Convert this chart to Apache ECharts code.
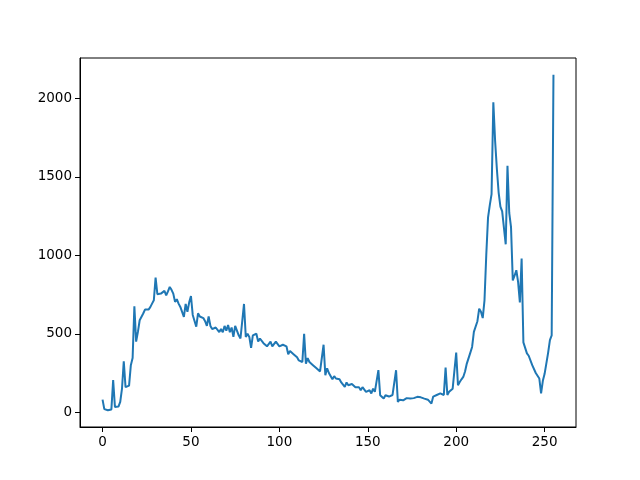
<!DOCTYPE html>
<html><head><meta charset="utf-8">
<script src="https://cdn.jsdelivr.net/npm/echarts@6/dist/echarts.min.js"></script>
<style>html,body{margin:0;padding:0;background:#fff}#c{width:640px;height:480px}</style>
</head><body><div id="c"></div>
<script>
// values for intensities 0..255
const v0_49 = [80,20,15,13,17,18,205,34,34,36,66,150,325,160,161,170,300,345,675,450,512,586,575,629,654,660,654,670,692,713,858,752,760,756,745,773,745,770,798,780,756,703,720,692,671,660,607,690,640,700];
const v50_99 = [740,620,610,545,630,610,620,600,580,550,610,550,530,520,540,530,511,530,510,550,520,556,510,540,480,550,520,490,470,460,690,480,500,480,410,490,480,500,450,470,460,440,450,420,430,450,420,420,450,440];
const v100_149 = [420,420,430,430,420,370,390,400,370,360,350,330,325,320,500,310,345,320,310,300,300,280,290,260,250,430,236,280,250,240,210,230,215,204,210,190,183,161,190,172,160,180,190,160,150,160,140,160,150,130];
const v150_199 = [140,140,120,150,130,120,268,108,100,87,108,110,100,108,110,100,268,66,80,72,76,80,90,80,87,98,90,100,98,90,95,90,87,85,80,75,55,100,108,110,115,120,110,110,285,110,130,140,150,160];
const v200_255 = [380,172,193,210,225,260,310,322,380,416,512,522,580,660,640,600,713,1000,1240,1320,1390,1975,1730,1550,1400,1310,1280,1280,1070,1570,1270,1180,840,870,905,830,700,980,445,450,375,360,350,300,300,250,255,215,120,200,245,240,380,460,490,2150];
const values = [].concat(v0_49, v50_99, v100_149, v150_199, v200_255);
const xTicks = [0,50,100,150,200,250];
const yTicks = [0,500,1000,1500,2000];

const data = values.map((v,i)=>[i,v]);
const chart = echarts.init(document.getElementById('c'), null, {renderer:'canvas'});
const lab = {color:'#000', fontFamily:'DejaVu Sans', fontSize:13.5, formatter:(v)=>String(v)};
chart.setOption({
  animation:false,
  grid:{left:80,right:64,top:58,bottom:53,show:true,borderColor:'#000',borderWidth:1,containLabel:false},
  xAxis:{type:'value',min:-12.75,max:267.75,
    axisLine:{show:true,onZero:false,lineStyle:{color:'#000',width:1}},
    axisTick:{show:true,inside:false,length:5,lineStyle:{color:'#000'},customValues:xTicks},
    axisLabel:Object.assign({margin:8,customValues:xTicks},lab),
    splitLine:{show:false}},
  yAxis:{type:'value',min:-94,max:2257,
    axisLine:{show:true,onZero:false,lineStyle:{color:'#000',width:1}},
    axisTick:{show:true,inside:false,length:5,lineStyle:{color:'#000'},customValues:yTicks},
    axisLabel:Object.assign({margin:8,customValues:yTicks},lab),
    splitLine:{show:false}},
  series:[{type:'line',data:data,showSymbol:false,symbol:'none',
    lineStyle:{color:'#1f77b4',width:2},itemStyle:{color:'#1f77b4'}}]
});
</script></body></html>
